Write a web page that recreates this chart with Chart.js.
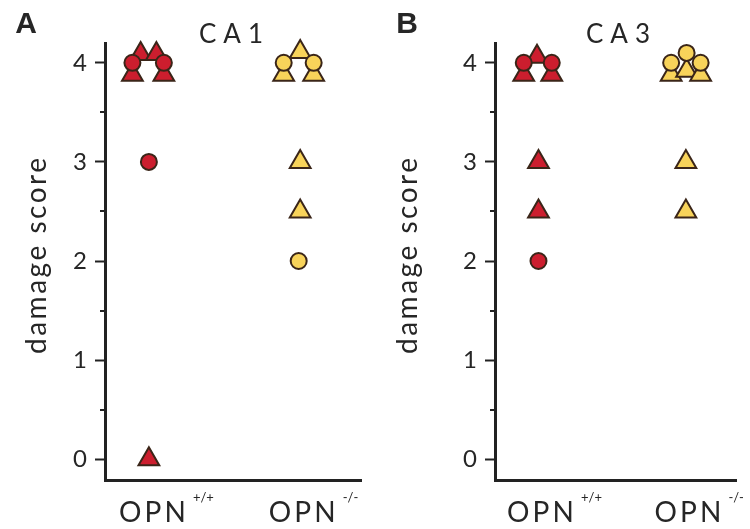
<!DOCTYPE html>
<html><head><meta charset="utf-8">
<script src="https://cdn.jsdelivr.net/npm/chart.js@4.4.1/dist/chart.umd.min.js"></script>
<style>
html,body{margin:0;padding:0;background:#fff;}
#wrap{position:relative;width:750px;height:529px;overflow:hidden;background:#fff;}
.panel{position:absolute;top:0;width:375px;height:529px;}
</style></head><body>
<div id="wrap">
<div class="panel" style="left:0"><canvas id="ca1" width="375" height="529"></canvas></div>
<div class="panel" style="left:375px"><canvas id="ca3" width="375" height="529"></canvas></div>
</div>
<script>
// ---- data ----
const categories = ['OPN', 'OPN'];
const categorySup = ['+/+', '-/-'];
const categoryPos = [1, 2];
const yTicks = [0, 0.5, 1, 1.5, 2, 2.5, 3, 3.5, 4];
const yTickLabels = ['0', '', '1', '', '2', '', '3', '', '4'];
const yAxisTitle = 'damage score';

// CA1 panel (plotted scores as read, with horizontal jitter offsets)
const ca1WtCircle = [4, 4, 3];
const ca1WtCircleDx = [-0.12, 0.09, -0.01];
const ca1WtTriangle = [4.09, 4.09, 3.88, 3.88, 0];
const ca1WtTriangleDx = [-0.065, 0.04, -0.12, 0.09, -0.01];
const ca1KoCircle = [4, 4, 2];
const ca1KoCircleDx = [-0.11, 0.09, -0.01];
const ca1KoTriangle = [4.11, 3.88, 3.88, 3, 2.5];
const ca1KoTriangleDx = [0, -0.11, 0.09, 0, 0];

// CA3 panel
const ca3WtCircle = [4, 4, 2];
const ca3WtCircleDx = [-0.10, 0.09, 0];
const ca3WtTriangle = [4.06, 3.88, 3.88, 3, 2.5];
const ca3WtTriangleDx = [-0.01, -0.10, 0.09, 0, 0];
const ca3KoCircle = [4, 4.1, 4];
const ca3KoCircleDx = [-0.10, 0.005, 0.10];
const ca3KoTriangle = [3.88, 3.92, 3.88, 3, 2.5];
const ca3KoTriangleDx = [-0.10, 0.005, 0.10, 0, 0];

// ---- styling ----
const RED = '#cc1e2e';
const YELLOW = '#f8d35a';
const EDGE = '#3a2518';
const AXIS = '#222222';
const TEXT = '#262626';
const FONT = 'Lato, "Open Sans", sans-serif';

function pts(vals, dx, cat) {
  return vals.map((v, i) => ({ x: categoryPos[cat] + dx[i], y: v }));
}
function ds(vals, dx, cat, shape, color) {
  const circle = shape === 'circle';
  return {
    data: pts(vals, dx, cat),
    pointStyle: shape,
    pointRadius: circle ? 8 : 12,
    pointHoverRadius: circle ? 8 : 12,
    pointBorderWidth: 2,
    pointBackgroundColor: color,
    pointBorderColor: EDGE,
    showLine: false,
    order: circle ? 0 : 1,
    clip: false
  };
}

function drawSpaced(ctx, text, cx, y, target) {
  ctx.letterSpacing = '0px';
  const nat = ctx.measureText(text).width;
  const n = text.length;
  const ls = n > 1 ? (target - nat) / (n - 1) : 0;
  ctx.letterSpacing = ls + 'px';
  const w = nat + ls * (n - 1);
  ctx.textAlign = 'left';
  ctx.fillText(text, cx - w / 2, y);
  ctx.letterSpacing = '0px';
  return cx + w / 2;
}

const textPlugin = {
  id: 'panelText',
  afterDraw(chart, args, o) {
    const ctx = chart.ctx;
    const xs = chart.scales.x, ys = chart.scales.y;
    const ca = chart.chartArea;
    ctx.save();
    // minor ticks
    ctx.strokeStyle = AXIS; ctx.lineWidth = 2;
    yTicks.forEach(v => {
      if (v % 1 !== 0) {
        const py = Math.round(ys.getPixelForValue(v));
        ctx.beginPath(); ctx.moveTo(ca.left - 5, py); ctx.lineTo(ca.left, py); ctx.stroke();
      }
    });
    ctx.fillStyle = TEXT;
    // panel letter
    ctx.font = 'bold 30px "Liberation Sans", Arial, sans-serif';
    ctx.textAlign = 'center'; ctx.textBaseline = 'middle';
    ctx.fillText(o.letter, o.letterX, 25);
    // title
    ctx.font = '26px ' + FONT;
    ctx.textBaseline = 'alphabetic';
    drawSpaced(ctx, o.title, o.titleX, 43, 64);
    // y axis title
    ctx.save();
    ctx.translate(o.yTitleX, 256);
    ctx.rotate(-Math.PI / 2);
    ctx.font = '28px ' + FONT;
    ctx.textBaseline = 'middle';
    drawSpaced(ctx, yAxisTitle, 0, 0, 196);
    ctx.restore();
    // category labels
    categories.forEach((c, i) => {
      const px = xs.getPixelForValue(categoryPos[i]) + 2;
      ctx.font = '28px ' + FONT;
      ctx.textBaseline = 'alphabetic';
      const right = drawSpaced(ctx, c, px, 522, 67);
      ctx.font = '13px ' + FONT;
      ctx.textAlign = 'left';
      ctx.letterSpacing = '0px';
      ctx.fillText(categorySup[i], right + 7, 502);
    });
    ctx.restore();
  }
};

function makePanel(id, cfg) {
  return new Chart(document.getElementById(id), {
    type: 'scatter',
    data: { datasets: cfg.datasets },
    options: {
      responsive: false,
      animation: false,
      events: [],
      layout: { padding: { left: 0, right: cfg.padRight, top: 43, bottom: 0 } },
      plugins: {
        legend: { display: false },
        tooltip: { enabled: false },
        title: { display: false },
        panelText: { letter: cfg.letter, letterX: cfg.letterX, title: cfg.title, titleX: cfg.titleX, yTitleX: cfg.yTitleX }
      },
      scales: {
        x: {
          type: 'linear',
          min: cfg.xMin, max: cfg.xMax,
          ticks: { display: false },
          grid: { display: false },
          border: { display: true, color: AXIS, width: 3 },
          afterFit(s) { s.height = 49; }
        },
        y: {
          type: 'linear',
          min: -0.21, max: 4.2,
          afterBuildTicks(s) { s.ticks = yTicks.map(v => ({ value: v })); },
          ticks: {
            color: TEXT,
            font: { family: FONT, size: 24 },
            padding: 8,
            callback: (v, i) => yTickLabels[i]
          },
          grid: {
            display: true, drawOnChartArea: false, drawTicks: true,
            tickLength: 10, tickWidth: 2,
            tickColor: c => (c.tick && c.tick.value % 1 !== 0) ? 'rgba(0,0,0,0)' : AXIS
          },
          border: { display: true, color: AXIS, width: 3 },
          afterFit(s) { s.width = cfg.yWidth; }
        }
      }
    },
    plugins: [textPlugin]
  });
}

makePanel('ca1', {
  letter: 'A', letterX: 26, title: 'CA1', titleX: 231, yTitleX: 37,
  xMin: 0.697, xMax: 2.406, yWidth: 105, padRight: 5,
  datasets: [
    ds(ca1WtCircle, ca1WtCircleDx, 0, 'circle', RED),
    ds(ca1KoCircle, ca1KoCircleDx, 1, 'circle', YELLOW),
    ds(ca1WtTriangle, ca1WtTriangleDx, 0, 'triangle', RED),
    ds(ca1KoTriangle, ca1KoTriangleDx, 1, 'triangle', YELLOW)
  ]
});
makePanel('ca3', {
  letter: 'B', letterX: 32, title: 'CA3', titleX: 243, yTitleX: 33,
  xMin: 0.705, xMax: 2.34, yWidth: 120, padRight: 0,
  datasets: [
    ds(ca3WtCircle, ca3WtCircleDx, 0, 'circle', RED),
    ds(ca3KoCircle, ca3KoCircleDx, 1, 'circle', YELLOW),
    ds(ca3WtTriangle, ca3WtTriangleDx, 0, 'triangle', RED),
    ds(ca3KoTriangle, ca3KoTriangleDx, 1, 'triangle', YELLOW)
  ]
});
</script>
</body></html>
